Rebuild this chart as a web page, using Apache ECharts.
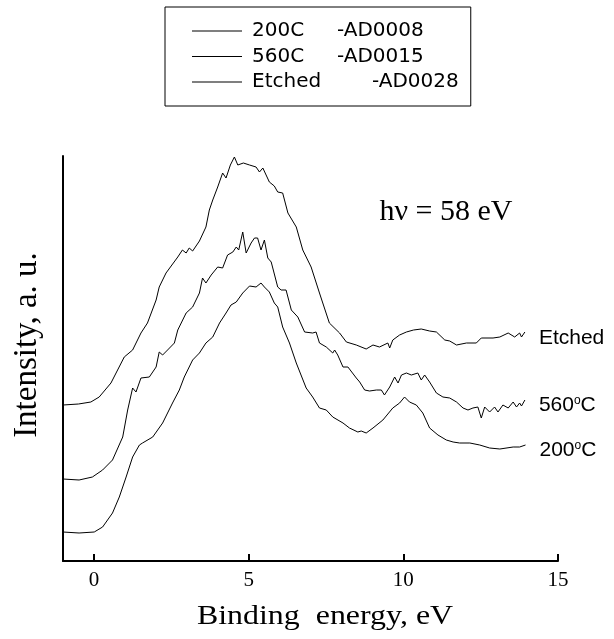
<!DOCTYPE html>
<html>
<head>
<meta charset="utf-8">
<script src="https://cdn.jsdelivr.net/npm/echarts@6/dist/echarts.min.js"></script>
<style>
html,body{margin:0;padding:0;background:#fff;}
#chart{width:614px;height:639px;}
</style>
</head>
<body>
<div id="chart"></div>
<script>
// ---- data (binding energy in eV, intensity in arbitrary units) ----
const seriesNames = ['200C', '560C', 'Etched'];
const seriesCodes = ['-AD0008', '-AD0015', '-AD0028'];
const curveLabels = ['200{s|o}C', '560{s|o}C', 'Etched'];
const xTickValues = [0, 5, 10, 15];

const energy200C = [-1.0,-0.48,0.01,0.28,0.60,0.82,1.04,1.25,1.47,1.57,1.90,2.22,2.54,2.76,2.92,3.19,3.41,3.62,3.84,4.06,4.27,4.43,4.60,4.81,5.03,5.24,5.40,5.51,5.67,5.83,5.94,6.10,6.32,6.54,6.86,7.07,7.29,7.51,7.72,8.05,8.26,8.53,8.64,8.80,9.02,9.34,9.66,9.88,10.04,10.20,10.42,10.63,10.85,11.12,11.39,11.61,11.82,12.15,12.47,12.79,13.12,13.55,13.76,13.95];
const intensity200C = [29,28,29,34,48,64,84,104,116,118,124,138,158,171,184,201,208,218,224,238,248,256,259,268,275,274,278,274,269,258,254,234,218,198,173,164,153,151,144,138,133,129,130,128,133,141,153,158,164,159,156,148,133,126,121,119,118,118,116,113,112,114,114,116];

const energy560C = [-1.0,-0.48,-0.05,0.28,0.60,0.93,1.09,1.25,1.36,1.52,1.79,2.01,2.11,2.22,2.38,2.60,2.71,2.98,3.19,3.41,3.51,3.62,3.79,4.00,4.16,4.32,4.49,4.60,4.68,4.81,4.92,5.08,5.19,5.29,5.40,5.51,5.62,5.73,5.94,6.05,6.21,6.38,6.59,6.81,7.07,7.18,7.29,7.51,7.72,7.78,7.88,8.05,8.21,8.48,8.59,8.75,8.91,9.13,9.29,9.39,9.56,9.72,9.83,9.94,10.10,10.26,10.47,10.58,10.69,10.85,11.07,11.28,11.50,11.72,11.93,12.09,12.25,12.41,12.52,12.63,12.79,12.95,13.06,13.22,13.39,13.55,13.66,13.76,13.82,13.93];
const intensity560C = [82,81,84,91,101,124,151,173,169,183,184,194,209,206,211,218,231,248,254,268,283,278,286,294,293,306,309,314,311,329,308,318,323,323,311,321,303,299,274,271,271,251,244,229,228,229,218,214,208,211,206,194,194,183,179,171,170,171,171,166,174,184,178,186,188,186,188,181,186,179,168,164,163,159,153,151,153,154,143,154,149,154,149,156,153,159,154,158,155,161];

const energyEtched = [-1.0,-0.5,-0.10,0.17,0.55,0.98,1.25,1.52,1.73,2.01,2.11,2.33,2.71,2.86,2.98,3.08,3.19,3.41,3.62,3.73,3.84,4.00,4.16,4.27,4.41,4.54,4.65,4.83,5.03,5.24,5.35,5.46,5.67,5.83,5.94,6.10,6.27,6.54,6.75,7.02,7.29,7.61,7.94,8.16,8.48,8.80,9.02,9.23,9.50,9.56,9.66,9.88,10.10,10.33,10.58,10.85,11.07,11.34,11.50,11.72,12.04,12.36,12.52,12.90,13.12,13.39,13.60,13.76,13.82,13.93];
const intensityEtched = [156,157,159,164,178,204,211,228,238,261,274,288,304,311,308,313,310,320,334,351,361,374,388,383,396,404,396,398,396,394,389,393,379,375,369,368,348,334,311,294,268,238,228,219,216,212,216,214,218,213,221,226,229,231,232,230,229,221,220,216,218,218,223,223,224,228,224,228,224,229];

const energies = [energy200C, energy560C, energyEtched];
const intensities = [intensity200C, intensity560C, intensityEtched];

function pairs(xs, ys) { return xs.map((x, i) => [x, ys[i]]); }

const serif = 'Liberation Serif';
const sans = 'Liberation Sans';
const legendFont = 'DejaVu Sans';

const chart = echarts.init(document.getElementById('chart'), null, {renderer: 'canvas'});

const series = seriesNames.map((name, k) => ({
  name: name,
  type: 'line',
  data: pairs(energies[k], intensities[k]),
  symbol: 'none',
  smooth: false,
  lineStyle: {color: '#000', width: 1},
  itemStyle: {color: '#000'},
  endLabel: {
    show: true,
    formatter: curveLabels[k],
    distance: 14,
    color: '#000',
    fontFamily: sans,
    fontSize: 21,
    offset: [0, k === 2 ? 6 : 5],
    rich: {s: {fontSize: 12, verticalAlign: 'top', fontFamily: sans, color: '#000', padding: [0, 0, 8, 0]}}
  },
  emphasis: {disabled: true},
  animation: false
}));

const option = {
  animation: false,
  backgroundColor: '#fff',
  grid: {left: 63, right: 56, top: 156, bottom: 78, containLabel: false},
  legend: {
    orient: 'vertical',
    left: 165,
    top: 7,
    padding: [14, 12, 14, 27],
    icon: 'rect',
    itemWidth: 50,
    itemHeight: 1,
    itemGap: 5.5,
    itemStyle: {color: '#000', borderWidth: 0},
    borderColor: '#000',
    borderWidth: 1,
    data: seriesNames,
    formatter: function (name) {
      const i = seriesNames.indexOf(name);
      const key = name === 'Etched' ? 'w' : 'n';
      return '{' + key + '|' + name + '}{c|' + seriesCodes[i] + '}';
    },
    textStyle: {
      fontFamily: legendFont, fontSize: 20, color: '#000', lineHeight: 20,
      rich: {
        n: {fontFamily: legendFont, fontSize: 20, lineHeight: 20, width: 85, padding: [0, 0, 0, 5]},
        w: {fontFamily: legendFont, fontSize: 20, lineHeight: 20, width: 120, padding: [0, 0, 0, 5]},
        c: {fontFamily: legendFont, fontSize: 20, lineHeight: 20}
      }
    }
  },
  xAxis: {
    type: 'value',
    min: -1,
    max: 15,
    axisLine: {show: true, onZero: false, lineStyle: {color: '#000', width: 2}},
    axisTick: {show: true, inside: true, length: 7, customValues: xTickValues, lineStyle: {color: '#000', width: 2}},
    axisLabel: {show: true, customValues: xTickValues, margin: 9, color: '#000', fontFamily: serif, fontSize: 21},
    splitLine: {show: false}
  },
  yAxis: {
    type: 'value',
    min: 0,
    max: 405,
    axisLine: {show: true, onZero: false, lineStyle: {color: '#000', width: 2}},
    axisTick: {show: false},
    axisLabel: {show: false},
    splitLine: {show: false}
  },
  graphic: [
    {type: 'text', x: 325, y: 617, scaleX: 1.14, style: {text: 'Binding  energy, eV', fontFamily: serif, fontSize: 28, fill: '#000', align: 'center', verticalAlign: 'middle'}},
    {type: 'text', x: 27, y: 345, rotation: Math.PI / 2, style: {text: 'Intensity, a. u.', fontFamily: serif, fontSize: 33, fill: '#000', align: 'center', verticalAlign: 'middle'}},
    {type: 'text', x: 446, y: 212, style: {text: 'h\u03BD = 58 eV', fontFamily: serif, fontSize: 30, fill: '#000', align: 'center', verticalAlign: 'middle'}}
  ],
  series: series
};

chart.setOption(option);
</script>
</body>
</html>
